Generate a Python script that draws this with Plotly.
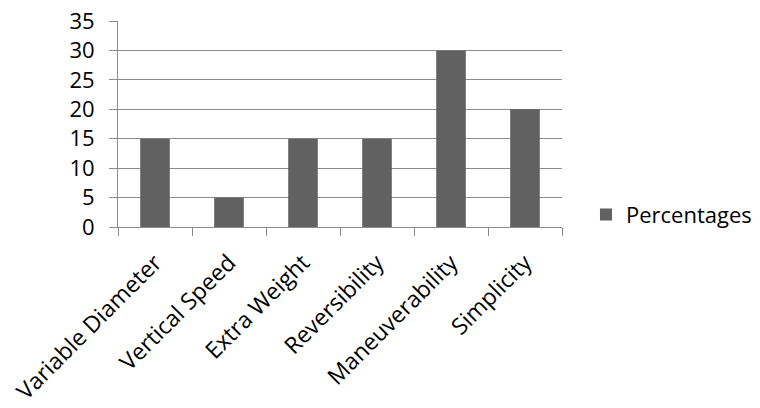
import plotly.graph_objects as go

categories = ["Variable Diameter", "Vertical Speed", "Extra Weight", "Reversibility", "Maneuverability", "Simplicity"]
percentages = [15, 5, 15, 15, 30, 20]
y_ticks = [0, 5, 10, 15, 20, 25, 30, 35]

FONT = "Open Sans"
GRID = "#8c8c8c"

fig = go.Figure()
fig.add_trace(go.Bar(
    x=categories, y=percentages, name="Percentages",
    marker=dict(color="#616161", line=dict(width=0)),
))

fig.update_layout(
    width=760, height=408,
    margin=dict(l=118, r=198, t=21, b=181, autoexpand=False),
    paper_bgcolor="white", plot_bgcolor="white",
    bargap=0.6,
    font=dict(family=FONT, color="#000000"),
    showlegend=True,
    legend=dict(x=1.054, y=0.06, xanchor="left", yanchor="middle",
                font=dict(size=22, family=FONT, color="#000000"),
                itemsizing="constant", bgcolor="rgba(0,0,0,0)"),
)
fig.update_xaxes(
    type="category", tickangle=-45, tickfont=dict(size=23, family=FONT),
    automargin=False, ticklabelstandoff=12,
    showline=True, linecolor=GRID, linewidth=1,
    ticks="outside", ticklen=8, tickcolor=GRID, tickson="boundaries",
    showgrid=False,
)
fig.update_yaxes(
    range=[0, 35], tickvals=y_ticks, tickfont=dict(size=22, family=FONT),
    automargin=False, ticklabelstandoff=10,
    showline=True, linecolor=GRID, linewidth=1,
    ticks="outside", ticklen=8, tickcolor=GRID,
    showgrid=True, gridcolor=GRID, gridwidth=1, zeroline=False,
)

fig.write_html("out.html")
